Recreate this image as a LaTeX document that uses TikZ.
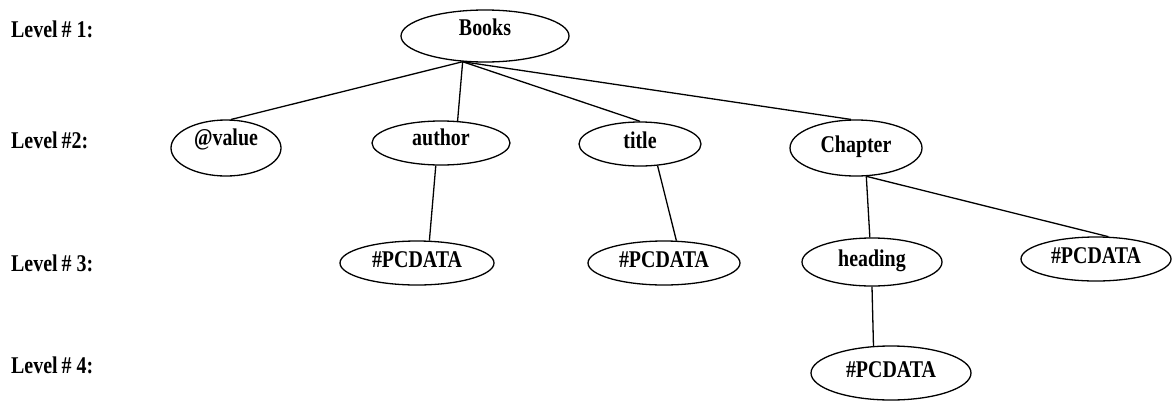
\documentclass[tikz,border=0pt]{standalone}
\usepackage{fontspec}
\setmainfont{Liberation Serif}[FakeStretch=0.83]
\usetikzlibrary{shapes.geometric}
\begin{document}
\begin{tikzpicture}[x=1pt,y=-1pt,
  every node/.style={font=\fontsize{24}{24}\selectfont\bfseries},
  el/.style={ellipse,draw,line width=1.3pt,inner sep=0pt,text height=0.95em,text depth=0pt},
  lvl/.style={anchor=west,inner sep=0pt},
  edge/.style={line width=1.3pt}]
\useasboundingbox (0,0) rectangle (1172,402);
% level labels
\node[lvl] (l1) at (11,29) {Level\,\# 1:};
\node[lvl] (l2) at (11,140) {Level\,\#2:};
\node[lvl] (l3) at (11,263) {Level\,\# 3:};
\node[lvl] (l4) at (11,365) {Level\,\# 4:};
% nodes
\node[el,minimum width=168pt,minimum height=52pt] (books) at (485,36) {\raisebox{5pt}{Books}};
\node[el,minimum width=110pt,minimum height=56pt] (value) at (226,148) {\raisebox{7pt}{@value}};
\node[el,minimum width=138pt,minimum height=44pt] (author) at (441,143) {\raisebox{2pt}{author}};
\node[el,minimum width=122pt,minimum height=44pt] (title) at (640,144) {title};
\node[el,minimum width=132pt,minimum height=56pt] (chapter) at (856,148) {Chapter};
\node[el,minimum width=154pt,minimum height=44pt] (pc1) at (417,263) {\#PCDATA};
\node[el,minimum width=152pt,minimum height=44pt] (pc2) at (664,263) {\#PCDATA};
\node[el,minimum width=140pt,minimum height=48pt] (heading) at (872,262) {heading};
\node[el,minimum width=150pt,minimum height=44pt] (pc3) at (1096,259) {\#PCDATA};
\node[el,minimum width=160pt,minimum height=54pt] (pc4) at (891,373) {\#PCDATA};
% connectors
\draw[edge] (books.229) -- (value.80);
\draw[edge] (books.229) -- (author.53);
\draw[edge] (books.229) -- (title.north);
\draw[edge] (books.229) -- (chapter.100);
\draw[edge] (author.257) -- (pc1.61);
\draw[edge] (title.309) -- (pc2.61);
\draw[edge] (chapter.290) -- (heading.95);
\draw[edge] (chapter.290) -- (pc3.61);
\draw[edge] (heading.south) -- (pc4.123);
\end{tikzpicture}
\end{document}
